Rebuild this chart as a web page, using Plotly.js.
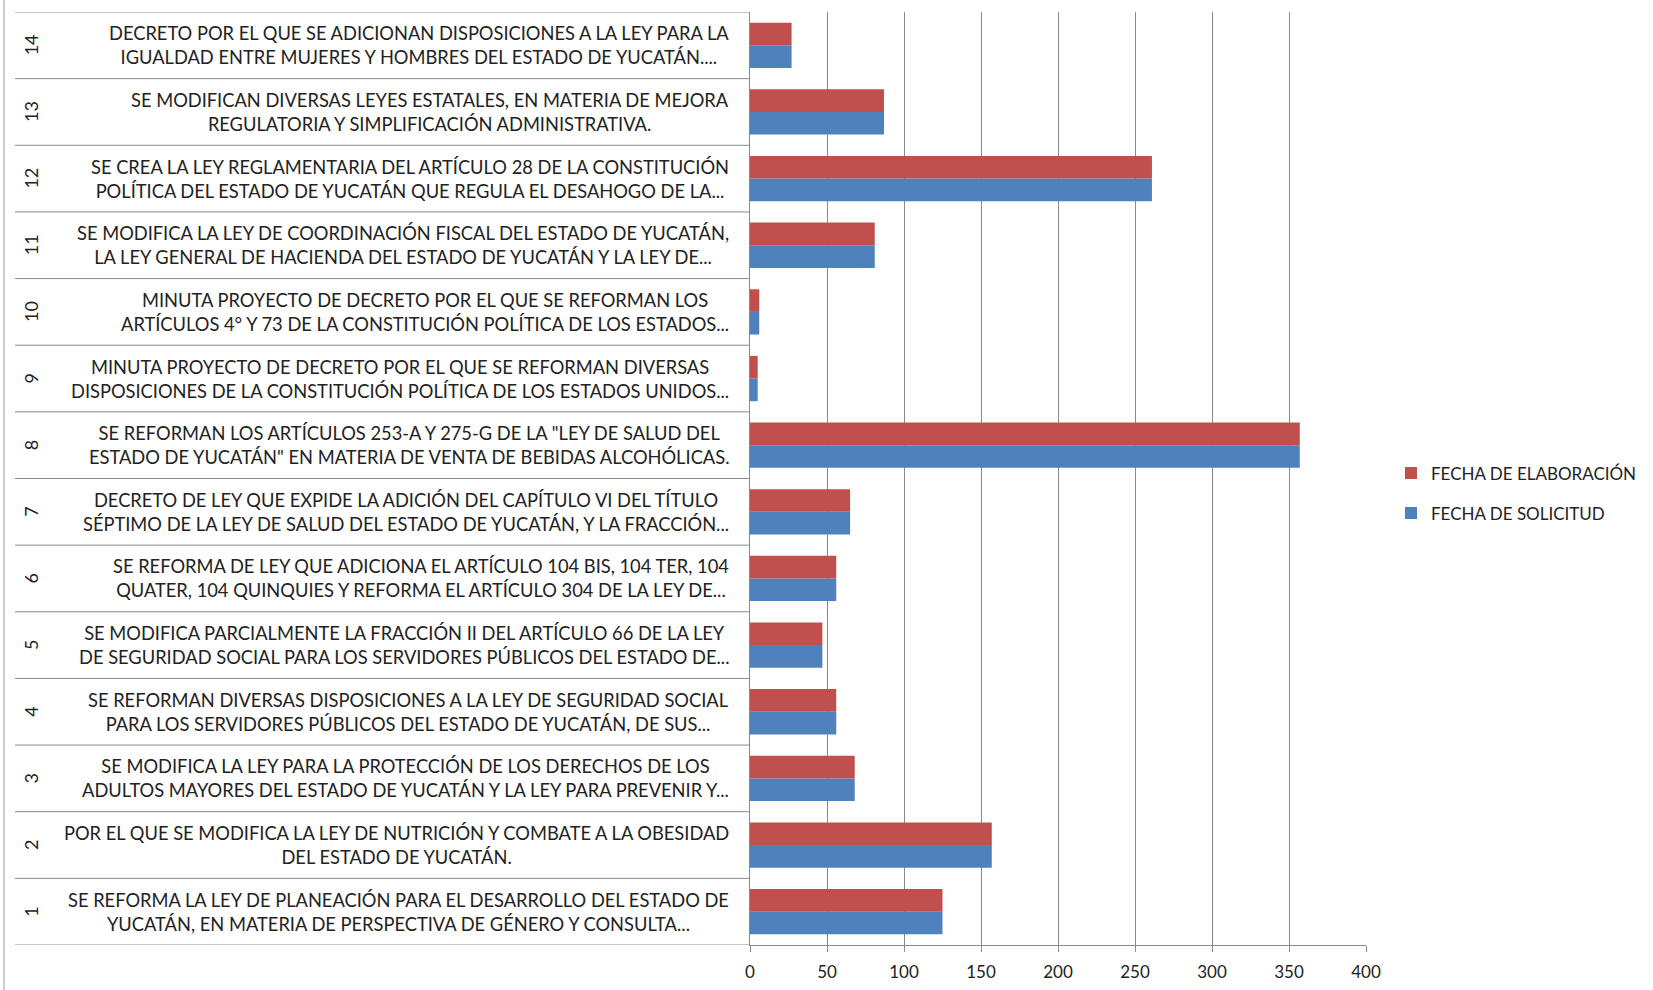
<!DOCTYPE html>
<html>
<head>
<meta charset="utf-8">
<script src="https://cdn.plot.ly/plotly-3.0.1.min.js"></script>
<style>html,body{margin:0;padding:0;background:#fff;}#chart{width:1653px;height:990px;}</style>
</head>
<body>
<div id="chart"></div>
<script>
const ids = ['1','2','3','4','5','6','7','8','9','10','11','12','13','14'];
const labels = [
  'SE REFORMA LA LEY DE PLANEACIÓN PARA EL DESARROLLO DEL ESTADO DE<br>YUCATÁN, EN MATERIA DE PERSPECTIVA DE GÉNERO Y CONSULTA...',
  'POR EL QUE SE MODIFICA LA LEY DE NUTRICIÓN Y COMBATE A LA OBESIDAD<br>DEL ESTADO DE YUCATÁN.',
  'SE MODIFICA LA LEY PARA LA PROTECCIÓN DE LOS DERECHOS DE LOS<br>ADULTOS MAYORES DEL ESTADO DE YUCATÁN Y LA LEY PARA PREVENIR Y...',
  'SE REFORMAN DIVERSAS DISPOSICIONES A LA LEY DE SEGURIDAD SOCIAL<br>PARA LOS SERVIDORES PÚBLICOS DEL ESTADO DE YUCATÁN, DE SUS...',
  'SE MODIFICA PARCIALMENTE LA FRACCIÓN II DEL ARTÍCULO 66 DE LA LEY<br>DE SEGURIDAD SOCIAL PARA LOS SERVIDORES PÚBLICOS DEL ESTADO DE...',
  'SE REFORMA DE LEY QUE ADICIONA EL ARTÍCULO 104 BIS, 104 TER, 104<br>QUATER, 104 QUINQUIES Y REFORMA EL ARTÍCULO 304 DE LA LEY DE...',
  'DECRETO DE LEY QUE EXPIDE LA ADICIÓN DEL CAPÍTULO VI DEL TÍTULO<br>SÉPTIMO DE LA LEY DE SALUD DEL ESTADO DE YUCATÁN, Y LA FRACCIÓN...',
  'SE REFORMAN LOS ARTÍCULOS 253-A Y 275-G DE LA "LEY DE SALUD DEL<br>ESTADO DE YUCATÁN" EN MATERIA DE VENTA DE BEBIDAS ALCOHÓLICAS.',
  'MINUTA PROYECTO DE DECRETO POR EL QUE SE REFORMAN DIVERSAS<br>DISPOSICIONES DE LA CONSTITUCIÓN POLÍTICA DE LOS ESTADOS UNIDOS...',
  'MINUTA PROYECTO DE DECRETO POR EL QUE SE REFORMAN LOS<br>ARTÍCULOS 4° Y 73 DE LA CONSTITUCIÓN POLÍTICA DE LOS ESTADOS...',
  'SE MODIFICA LA LEY DE COORDINACIÓN FISCAL DEL ESTADO DE YUCATÁN,<br>LA LEY GENERAL DE HACIENDA DEL ESTADO DE YUCATÁN Y LA LEY DE...',
  'SE CREA LA LEY REGLAMENTARIA DEL ARTÍCULO 28 DE LA CONSTITUCIÓN<br>POLÍTICA DEL ESTADO DE YUCATÁN QUE REGULA EL DESAHOGO DE LA...',
  'SE MODIFICAN DIVERSAS LEYES ESTATALES, EN MATERIA DE MEJORA<br>REGULATORIA Y SIMPLIFICACIÓN ADMINISTRATIVA.',
  'DECRETO POR EL QUE SE ADICIONAN DISPOSICIONES A LA LEY PARA LA<br>IGUALDAD ENTRE MUJERES Y HOMBRES DEL ESTADO DE YUCATÁN....'
];
const fechaElaboracion = [125, 157, 68, 56, 47, 56, 65, 357, 5, 6, 81, 261, 87, 27];
const fechaSolicitud   = [125, 157, 68, 56, 47, 56, 65, 357, 5, 6, 81, 261, 87, 27];
const seriesNames = ['FECHA DE ELABORACIÓN', 'FECHA DE SOLICITUD'];
const xTicks = [0, 50, 100, 150, 200, 250, 300, 350, 400];

const FONT = 'Lato, "Open Sans", sans-serif';
const TXT = '#222222';
const GRID = '#8a8a8a';

const traces = [
  {type:'bar', orientation:'h', name: seriesNames[1], y: ids, x: fechaSolicitud,
   marker:{color:'#4F81BD', line:{width:0}}, legendgroup:'b', legendrank:2, hoverinfo:'x'},
  {type:'bar', orientation:'h', name: seriesNames[0], y: ids, x: fechaElaboracion,
   marker:{color:'#C0504D', line:{width:0}}, legendgroup:'a', legendrank:1, hoverinfo:'x'}
];

const L = 750, R = 287, T = 12, B = 45;
const plotW = 1653 - L - R;
const px = v => (v - L) / plotW;

const annotations = [];
const shapes = [];
ids.forEach((id, i) => {
  annotations.push({xref:'paper', yref:'y', x: px(31), y: i, text: id, textangle: -90,
    showarrow:false, xanchor:'center', yanchor:'middle', font:{family:FONT, size:18, color:TXT}});
  annotations.push({xref:'paper', yref:'y', x: px(731), y: i, text: labels[i], showarrow:false,
    xanchor:'right', yanchor:'middle', align:'center', font:{family:FONT, size:18.3, color:TXT}});
});
for (let k = 0; k <= ids.length; k++) {
  shapes.push({type:'line', xref:'paper', yref:'y', x0: px(15), x1: 0, y0: k - 0.5, y1: k - 0.5,
    line:{color:GRID, width:1}});
}
shapes.push({type:'line', xref:'paper', yref:'paper', x0: px(4), x1: px(4), y0: -1, y1: 2,
  line:{color:'#9a9a9a', width:1}});

const layout = {
  width:1653, height:990,
  margin:{l:L, r:R, t:T, b:B, pad:0, autoexpand:false},
  paper_bgcolor:'#ffffff', plot_bgcolor:'#ffffff',
  barmode:'group', bargap:0.32, bargroupgap:0,
  font:{family:FONT, color:TXT, size:17},
  showlegend:true,
  legend:{x: px(1391), y: 0.484, xanchor:'left', yanchor:'middle', traceorder:'grouped',
    tracegroupgap: 15, font:{family:FONT, size:17, color:TXT}, bgcolor:'rgba(0,0,0,0)'},
  xaxis:{range:[0,400], tickvals: xTicks, ticktext: xTicks.map(String), showgrid:true, gridcolor:GRID, gridwidth:1,
    zeroline:false, showline:true, linecolor:GRID, linewidth:1, ticks:'outside', ticklen:6, tickcolor:GRID,
    ticklabelstandoff: 6, tickfont:{family:FONT, size:17, color:TXT}, fixedrange:true},
  yaxis:{type:'category', categoryorder:'array', categoryarray: ids, range:[-0.5, ids.length - 0.5],
    showticklabels:false, showgrid:false, zeroline:false, showline:true, linecolor:GRID, linewidth:1,
    ticks:'', fixedrange:true},
  annotations: annotations,
  shapes: shapes
};

Plotly.newPlot('chart', traces, layout, {displayModeBar:false, staticPlot:true});
</script>
</body>
</html>
